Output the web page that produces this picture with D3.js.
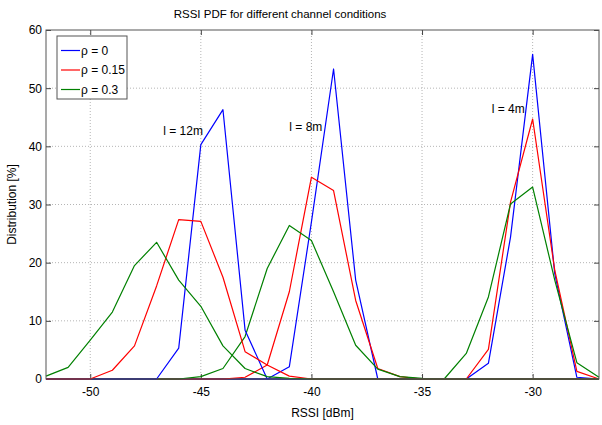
<!DOCTYPE html>
<html>
<head>
<meta charset="utf-8">
<script src="https://cdn.jsdelivr.net/npm/d3@7"></script>
<style>
  body { margin: 0; background: #fff; }
  svg text { font-family: "Liberation Sans", Arial, sans-serif; fill: #000; }
</style>
</head>
<body>
<div class="chart"></div>
<script>
// RSSI bins (dBm)
const rssi = [-52, -51, -50, -49, -48, -47, -46, -45, -44, -43, -42, -41, -40,
              -39, -38, -37, -36, -35, -34, -33, -32, -31, -30, -29, -28, -27];

// distribution [%] per distance and rho
const rho0_4m   = [0,0,0,0,0,0,0,0,0,0,0,0,0,0,0,0,0,0,0,0,2.7,24.4,55.8,18.1,0.3,0];
const rho015_4m = [0,0,0,0,0,0,0,0,0,0,0,0,0,0,0,0,0,0,0,0,5.1,30.4,44.7,18.7,1.3,0];
const rho03_4m  = [0,0,0,0,0,0,0,0,0,0,0,0,0,0,0,0,0,0,0,4.4,14.1,30.1,33.0,17.0,2.8,0.3];

const rho0_8m   = [0,0,0,0,0,0,0,0,0,0,0,2.1,27.0,53.3,17.0,0,0,0,0,0,0,0,0,0,0,0];
const rho015_8m = [0,0,0,0,0,0,0,0,0,0.3,2.4,15.0,34.7,32.4,13.5,1.8,0.4,0,0,0,0,0,0,0,0,0];
const rho03_8m  = [0,0,0,0,0,0,0,0.4,1.8,7.3,19.0,26.4,23.8,15.0,5.8,1.7,0.4,0.1,0,0,0,0,0,0,0,0];

const rho0_12m   = [0,0,0,0,0,0,5.3,40.3,46.3,8.4,0,0,0,0,0,0,0,0,0,0,0,0,0,0,0,0];
const rho015_12m = [0,0,0,1.5,5.7,16.0,27.4,27.1,17.5,4.7,2.4,0.5,0,0,0,0,0,0,0,0,0,0,0,0,0,0];
const rho03_12m  = [0.5,2.0,6.7,11.5,19.5,23.5,17.0,12.5,5.7,1.8,0.4,0.1,0,0,0,0,0,0,0,0,0,0,0,0,0,0];

const rhoLabels = ["\u03c1 = 0", "\u03c1 = 0.15", "\u03c1 = 0.3"];
const colors = ["#0000ff", "#ff0000", "#008000"];

// drawing order: 4m, 8m, 12m; each blue, red, green
const curves = [
  { values: rho0_4m, k: 0 }, { values: rho015_4m, k: 1 }, { values: rho03_4m, k: 2 },
  { values: rho0_8m, k: 0 }, { values: rho015_8m, k: 1 }, { values: rho03_8m, k: 2 },
  { values: rho0_12m, k: 0 }, { values: rho015_12m, k: 1 }, { values: rho03_12m, k: 2 }
];

// distance annotations (left edge x, middle y in data units)
const notes = [
  { text: "l = 12m", x: -46.7, y: 42.6 },
  { text: "l = 8m", x: -41.0, y: 43.4 },
  { text: "l = 4m", x: -31.85, y: 46.4 }
];

const xTicks = [-50, -45, -40, -35, -30];
const yTicks = [0, 10, 20, 30, 40, 50, 60];

const width = 602, height = 425;
const plot = { left: 46, right: 599, top: 30, bottom: 379 };

const svg = d3.select(".chart").append("svg")
  .attr("width", width)
  .attr("height", height);

const x = d3.scaleLinear().domain([-52, -27]).range([plot.left, plot.right]);
const y = d3.scaleLinear().domain([0, 60]).range([plot.bottom, plot.top]);

// grid
svg.append("g").selectAll("line")
  .data(xTicks).enter().append("line")
  .attr("x1", d => x(d)).attr("x2", d => x(d))
  .attr("y1", plot.top).attr("y2", plot.bottom)
  .attr("stroke", "#b5b5b5").attr("stroke-dasharray", "1,2");
svg.append("g").selectAll("line")
  .data(yTicks.slice(1, -1)).enter().append("line")
  .attr("x1", plot.left).attr("x2", plot.right)
  .attr("y1", d => y(d)).attr("y2", d => y(d))
  .attr("stroke", "#b5b5b5").attr("stroke-dasharray", "1,2");

// axes, ticks pointing inward (plain hyphen for negatives, like the original)
const fmt = d => String(d);
const axisStyle = g => {
  g.select(".domain").remove();
  g.selectAll(".tick line").attr("stroke", "#444");
  g.selectAll("text").style("font-size", "12px");
};
svg.append("g").attr("transform", `translate(0,${plot.bottom})`)
  .call(d3.axisBottom(x).tickValues(xTicks).tickFormat(fmt).tickSize(-5).tickPadding(8))
  .call(axisStyle);
svg.append("g").attr("transform", `translate(0,${plot.top})`)
  .call(d3.axisTop(x).tickValues(xTicks).tickSize(-5).tickFormat(""))
  .call(axisStyle);
svg.append("g").attr("transform", `translate(${plot.left},0)`)
  .call(d3.axisLeft(y).tickValues(yTicks).tickFormat(fmt).tickSize(-5).tickPadding(4))
  .call(axisStyle);
svg.append("g").attr("transform", `translate(${plot.right},0)`)
  .call(d3.axisRight(y).tickValues(yTicks).tickSize(-5).tickFormat(""))
  .call(axisStyle);

// curves
const line = d3.line()
  .x((d, i) => x(rssi[i]))
  .y(d => y(d));

svg.append("g").selectAll("path")
  .data(curves).enter().append("path")
  .attr("d", d => line(d.values))
  .attr("fill", "none")
  .attr("stroke", d => colors[d.k])
  .attr("stroke-width", 1.2)
  .attr("stroke-linejoin", "round");

// box
svg.append("rect")
  .attr("x", plot.left).attr("y", plot.top)
  .attr("width", plot.right - plot.left).attr("height", plot.bottom - plot.top)
  .attr("fill", "none").attr("stroke", "#555");

// annotations
svg.append("g").selectAll("text")
  .data(notes).enter().append("text")
  .attr("x", d => x(d.x)).attr("y", d => y(d.y))
  .attr("dy", "0.35em")
  .style("font-size", "12px")
  .text(d => d.text);

// legend
const legend = svg.append("g").attr("transform", "translate(57,36)");
legend.append("rect")
  .attr("width", 70).attr("height", 63)
  .attr("fill", "#fff").attr("stroke", "#555");
rhoLabels.forEach((label, i) => {
  const ly = 14.5 + i * 19.5;
  legend.append("line")
    .attr("x1", 4).attr("x2", 23).attr("y1", ly).attr("y2", ly)
    .attr("stroke", colors[i]).attr("stroke-width", 1.2);
  legend.append("text")
    .attr("x", 24).attr("y", ly).attr("dy", "0.35em")
    .style("font-size", "12px")
    .text(label);
});

// title and axis labels
svg.append("text")
  .attr("x", 280).attr("y", 18)
  .attr("text-anchor", "middle")
  .style("font-size", "11.5px")
  .text("RSSI PDF for different channel conditions");

svg.append("text")
  .attr("x", (plot.left + plot.right) / 2).attr("y", 417)
  .attr("text-anchor", "middle")
  .style("font-size", "12px")
  .text("RSSI [dBm]");

svg.append("text")
  .attr("transform", `translate(16,${(plot.top + plot.bottom) / 2}) rotate(-90)`)
  .attr("text-anchor", "middle")
  .style("font-size", "12px")
  .text("Distribution [%]");
</script>
</body>
</html>
